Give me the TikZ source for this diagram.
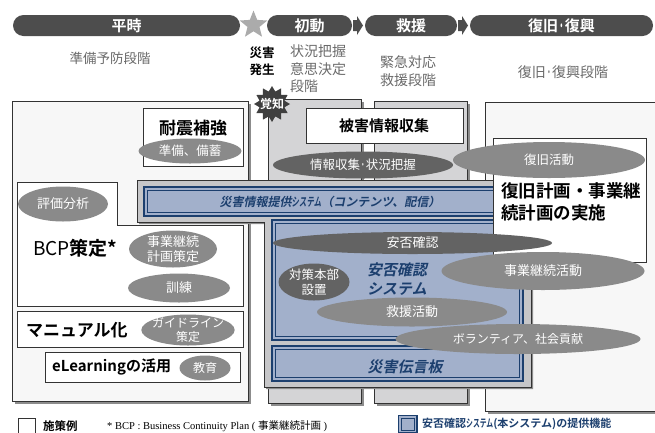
\documentclass[tikz,border=0pt]{standalone}
\usepackage{fontspec}
\setmainfont{Noto Sans CJK JP}[BoldFont={Noto Sans CJK JP Bold}]
\newfontfamily\jpitb{Noto Sans CJK JP Bold}[FakeSlant=0.2]
\newfontfamily\serifrm{Liberation Serif}
\usetikzlibrary{shapes.geometric,shapes.misc,shadows}
\newcommand\myfs[2]{\fontsize{#1}{#2}\selectfont}
\newcommand\narrowk[1]{\scalebox{0.62}[1]{#1}}
\newcommand\ndot{\scalebox{0.45}[1]{・}}
\definecolor{pill}{HTML}{4D4D4D}
\definecolor{lbg}{HTML}{F7F7F7}
\definecolor{colf}{HTML}{D4D4D6}
\definecolor{framef}{HTML}{C6C6C8}
\definecolor{bluef}{HTML}{A2B0CB}
\definecolor{navy}{HTML}{1C3F6E}
\definecolor{ellg}{HTML}{8A8A8A}
\definecolor{elld}{HTML}{636363}
\definecolor{txtg}{HTML}{6A6A6A}
\definecolor{shad}{HTML}{8C8C8C}
\definecolor{starg}{HTML}{ABABAB}
\definecolor{stard}{HTML}{3F3F3F}
\definecolor{edge}{HTML}{333333}
\begin{document}
\begin{tikzpicture}[x=1pt,y=-1pt,
  pillst/.style={rounded rectangle, fill=pill, text=white, font=\bfseries\myfs{15}{18}, inner sep=0, minimum height=21},
  box/.style={draw=edge, line width=0.7, fill=white, inner sep=0, anchor=north west},
  sbox/.style={box, drop shadow={shadow xshift=3pt, shadow yshift=-3pt, opacity=1, fill=shad}},
  ell/.style={ellipse, fill=ellg, text=white, inner sep=-3pt, align=center},
  dell/.style={ell, fill=elld},
  graytxt/.style={text=txtg, font=\myfs{14}{17.5}, align=center, inner sep=0},
  navytxt/.style={text=navy, font=\jpitb, align=center, inner sep=0},
  bandout/.style={draw=navy, line width=1.6, fill=bluef},
  bandin/.style={draw=navy, line width=0.8}
]
\useasboundingbox (0,0) rectangle (655,432);
% ---------- phase pills ----------
\node[pillst, minimum width=227] (heiji) at (126.5,25.5) {平時};
\node[pillst, minimum width=85] (shodo) at (309.5,25.5) {初動};
\node[pillst, minimum width=92] (kyuen) at (411,25.5) {救援};
\node[pillst, minimum width=183] (fukkyu) at (561.5,25.5) {復旧\ndot 復興};
\fill[pill] (353,20) -- (357,20) -- (357,16) -- (363,25.5) -- (357,35) -- (357,31) -- (353,31) -- cycle;
\fill[pill] (458,20) -- (462,20) -- (462,16) -- (468,25.5) -- (462,35) -- (462,31) -- (458,31) -- cycle;
\node[star, star points=5, star point ratio=2.3, minimum size=29, inner sep=0, fill=starg] (hassei) at (253.5,25) {};
% ---------- phase captions ----------
\node[graytxt, font=\myfs{13.5}{16}] (yobo) at (110,58) {準備予防段階};
\node[inner sep=0, align=center, font=\bfseries\myfs{12.5}{17}] (saigai) at (262,61.5) {災害\\発生};
\node[graytxt, align=left, anchor=north west] (jokyo) at (290,45) {状況把握\\意思決定\\段階};
\node[graytxt] (kinkyu) at (408,71) {緊急対応\\救援段階};
\node[graytxt] (fukkyudan) at (563,72) {復旧\ndot 復興段階};
% ---------- background columns ----------
\node[sbox, fill=lbg, minimum width=236, minimum height=300] (lbox) at (12,101) {};
\node[sbox, fill=colf, minimum width=93, minimum height=304] (col1) at (268,99) {};
\node[sbox, fill=colf, minimum width=93, minimum height=302] (col2) at (374,101) {};
\node[sbox, fill=lbg, minimum width=175, minimum height=309] (rbox) at (485,102) {};
% ---------- 平時 items (upper) ----------
\node[box, minimum width=100, minimum height=58] (taishinbox) at (143,108) {};
\node[inner sep=0, font=\bfseries\myfs{17}{20}] (taishin) at (193,128) {耐震補強};
\node[ell, minimum width=103, minimum height=25, font=\myfs{12.5}{15}] (bichiku) at (190,151) {準備、備蓄};
% ---------- 初動/救援 items ----------
\node[box, minimum width=157, minimum height=35] (higaibox) at (306,108) {};
\node[inner sep=0, font=\bfseries\myfs{15}{18}] (higai) at (384,126) {被害情報収集};
\node[dell, minimum width=180, minimum height=27, font=\myfs{12.5}{15}] (joho) at (363,165) {情報収集\ndot 状況把握};
\node[star, star points=12, star point ratio=1.4, minimum size=36, inner sep=0, fill=stard] (kakuchistar) at (272,104) {};
\node[inner sep=0, text=white, font=\bfseries\myfs{12}{14}] (kakuchi) at (272,104) {覚知};
% ---------- system frame ----------
\draw[draw=edge, line width=0.6, fill=framef, drop shadow={shadow xshift=2pt, shadow yshift=-2pt, opacity=1, fill=shad}]
  (137,180) -- (531,180) -- (531,387) -- (264,387) -- (264,222) -- (137,222) -- cycle;
\draw[bandout] (144,187) rectangle (523,216);
\draw[bandin] (147.5,190.5) rectangle (519.5,212.5);
\node[navytxt, font=\jpitb\myfs{12}{14}] (teikyo) at (330,201.5) {災害情報提供\narrowk{システム}（コンテンツ、配信）};
\draw[bandout] (272,220) rectangle (523,340);
\draw[bandin] (275.5,223.5) rectangle (519.5,336.5);
\draw[bandout] (272,346) rectangle (523,381);
\draw[bandin] (275.5,349.5) rectangle (519.5,377.5);
% ---------- 平時 items (lower) ----------
\draw[draw=edge, line width=0.7, fill=white] (17,182) -- (117,182) -- (117,225) -- (243,225) -- (243,306) -- (17,306) -- cycle;
\node[ell, minimum width=90, minimum height=35, font=\myfs{13}{15}] (hyoka) at (63,204) {評価分析};
\node[inner sep=0, anchor=west, font=\myfs{19}{22}] (bcp) at (33,248) {BCP\textbf{策定*}};
\node[ell, minimum width=88, minimum height=37, font=\myfs{13}{15}] (jigyokeikaku) at (173,249) {事業継続\\計画策定};
\node[ell, minimum width=102, minimum height=29, font=\myfs{13}{15}] (kunren) at (179,288) {訓練};
\node[box, minimum width=226, minimum height=36] (manualbox) at (17,311) {};
\node[inner sep=0, anchor=west, font=\bfseries\myfs{17}{20}] (manual) at (26,330) {マニュアル化};
\node[ell, minimum width=90, minimum height=31, font=\myfs{12}{13.5}] (guide) at (188,330) {ガイドライン\\策定};
\node[box, minimum width=195, minimum height=30] (elbox) at (45,352) {};
\node[inner sep=0, anchor=west, font=\bfseries\myfs{15}{18}] (elearn) at (52,367) {eLearningの活用};
\node[ell, minimum width=51, minimum height=25, font=\myfs{12}{14}] (kyoiku) at (205,368) {教育};
% ---------- 復旧 items ----------
\node[box, minimum width=153, minimum height=124] (keikakubox) at (493,138) {};
\node[inner sep=0, anchor=west, align=left, font=\bfseries\myfs{17.5}{22.5}] (keikaku) at (501,202) {復旧計画・事業継\\続計画の実施};
\node[ell, minimum width=192, minimum height=36, font=\myfs{12.5}{15}] (fukkyukatsudo) at (549,160) {復旧活動};
% ---------- system ellipses ----------
\node[dell, minimum width=279, minimum height=22, font=\myfs{13}{15}] (anpi) at (412.5,243) {安否確認};
\node[ell, minimum width=203, minimum height=38, font=\myfs{13}{15}] (jigyokatsudo) at (543,271) {事業継続活動};
\node[dell, minimum width=71, minimum height=37, font=\myfs{12.5}{15}] (taisaku) at (314,282) {対策本部\\設置};
\node[navytxt, font=\jpitb\myfs{15}{19}] (anpisys) at (397,279.5) {安否確認\\システム};
\node[ell, minimum width=190, minimum height=29, font=\myfs{13}{15}] (kyuenkatsudo) at (412,312) {救援活動};
\node[ell, minimum width=245, minimum height=30, font=\myfs{12}{14}] (volunteer) at (518,339) {ボランティア、社会貢献};
\node[navytxt, font=\jpitb\myfs{15}{18}] (dengon) at (405,367) {災害伝言板};
% ---------- legend ----------
\node[box, minimum width=17, minimum height=22] (legbox) at (18,418) {};
\node[inner sep=0, anchor=west, font=\bfseries\myfs{11.5}{13}] (legtxt) at (43,426) {施策例};
\node[inner sep=0, anchor=west, font=\serifrm\myfs{10.5}{12}] (bcpnote) at (107,426) {* BCP : Business Continuity Plan ( {\normalfont 事業継続計画} )};
\draw[bandout] (398.5,415.5) rectangle (417,433);
\draw[bandin] (401.5,418.5) rectangle (414,430);
\node[inner sep=0, anchor=west, text=navy, font=\bfseries\myfs{11}{13}] (legsys) at (422,424) {安否確認\narrowk{システム}(本システム)の提供機能};
\end{tikzpicture}
\end{document}
